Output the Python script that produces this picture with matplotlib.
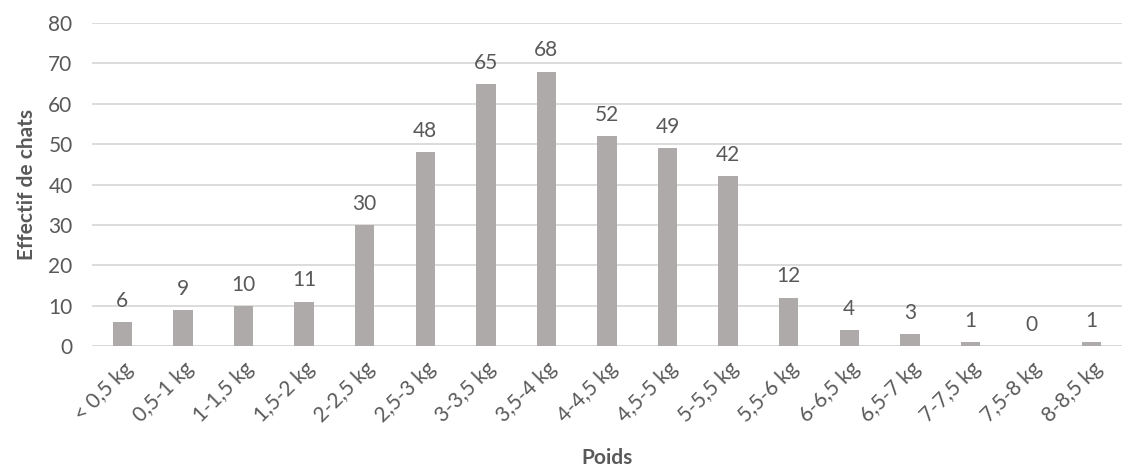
import matplotlib
matplotlib.use("Agg")
import matplotlib.pyplot as plt

categories = ["< 0,5 kg", "0,5-1 kg", "1-1,5 kg", "1,5-2 kg", "2-2,5 kg", "2,5-3 kg",
              "3-3,5 kg", "3,5-4 kg", "4-4,5 kg", "4,5-5 kg", "5-5,5 kg", "5,5-6 kg",
              "6-6,5 kg", "6,5-7 kg", "7-7,5 kg", "7,5-8 kg", "8-8,5 kg"]
counts = [6, 9, 10, 11, 30, 48, 65, 68, 52, 49, 42, 12, 4, 3, 1, 0, 1]
y_ticks = [0, 10, 20, 30, 40, 50, 60, 70, 80]

plt.rcParams['font.family'] = ['Lato', 'DejaVu Sans']
text_color = "#595959"
bar_color = "#ADAAA9"
grid_color = "#D9D9D9"

fig = plt.figure(figsize=(11.4, 4.72), dpi=100)
ax = fig.add_axes([0.0807, 0.267, 0.9035, 0.684])

x = list(range(len(categories)))
ax.bar(x, counts, width=0.32, color=bar_color, zorder=3)
for xi, v in zip(x, counts):
    ax.annotate(str(v), (xi, v), xytext=(0, 8), textcoords="offset points",
                ha="center", va="bottom", fontsize=15, color=text_color)

ax.set_xlim(-0.5, len(categories) - 0.5)
ax.set_ylim(0, 80)
ax.set_yticks(y_ticks)
ax.yaxis.grid(True, color=grid_color, linewidth=1.3, zorder=0)
ax.set_xticks(x)
ax.set_xticklabels(categories, rotation=45, ha="right", rotation_mode="anchor")
ax.tick_params(axis="both", length=0, labelsize=15, labelcolor=text_color)
ax.tick_params(axis="x", pad=9)
ax.tick_params(axis="y", pad=14)
for s in ax.spines.values():
    s.set_visible(False)
ax.axhline(0, color=grid_color, linewidth=1.3, zorder=2)

ax.set_xlabel("Poids", fontsize=15, fontweight="bold", color=text_color, labelpad=16)
ax.set_ylabel("Effectif de chats", fontsize=15, fontweight="bold", color=text_color, labelpad=8)

fig.savefig("out.png", dpi=100, facecolor="white")
